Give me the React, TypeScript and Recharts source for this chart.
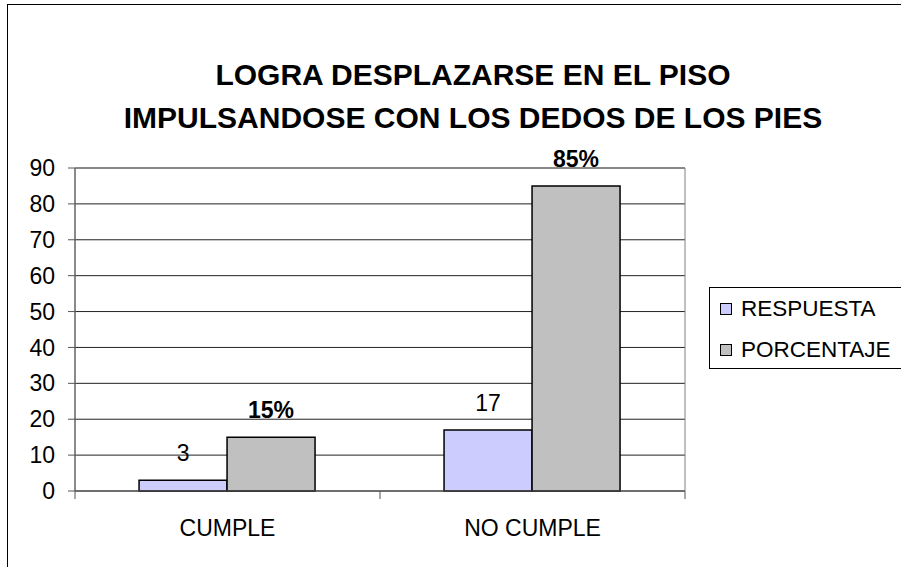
import { BarChart, Bar, XAxis, YAxis, CartesianGrid, LabelList, ReferenceArea } from "recharts";

const categories = ["CUMPLE", "NO CUMPLE"];
const respuesta = [3, 17];
const porcentaje = [15, 85];
const yTicks = [0, 10, 20, 30, 40, 50, 60, 70, 80, 90];

const SERIES = [
  { key: "respuesta", name: "RESPUESTA", color: "#CCCCFF" },
  { key: "porcentaje", name: "PORCENTAJE", color: "#C0C0C0" },
];

const FONT = '"Liberation Sans", Arial, sans-serif';
const TICK_SIZE = 8;
const TICK_MARGIN = 21;

const data = categories.map((name, i) => ({
  name,
  respuesta: respuesta[i],
  porcentaje: porcentaje[i],
}));

function CategoryTick(props: any) {
  const { x, y, payload, index, visibleTicksCount } = props;
  const axisY = y - TICK_SIZE - TICK_MARGIN;
  const half = payload.offset ?? 0;
  const isLast = index === (visibleTicksCount ?? categories.length) - 1;
  return (
    <g>
      <line x1={x - half} x2={x - half} y1={axisY} y2={axisY + TICK_SIZE} stroke="#555" strokeWidth={1} />
      {isLast && <line x1={x + half} x2={x + half} y1={axisY} y2={axisY + TICK_SIZE} stroke="#555" strokeWidth={1} />}
      <text x={x} y={y} dy="0.71em" textAnchor="middle" fontSize={23} fontFamily={FONT} fill="#000">
        {payload.value}
      </text>
    </g>
  );
}

function LegendBox() {
  return (
    <div
      style={{
        position: "absolute",
        left: 709,
        top: 287,
        width: 200,
        height: 80,
        border: "1px solid #000",
        background: "#fff",
        fontFamily: FONT,
        fontSize: 22.5,
        color: "#000",
      }}
    >
      {SERIES.map((s, i) => (
        <div key={s.key} style={{ position: "absolute", left: 0, top: 4 + i * 41, height: 33, display: "flex", alignItems: "center" }}>
          <span
            style={{
              display: "inline-block",
              marginLeft: 10,
              width: 10,
              height: 10,
              background: s.color,
              border: "1px solid #000",
            }}
          />
          <span style={{ marginLeft: 9, lineHeight: "33px" }}>{s.name}</span>
        </div>
      ))}
    </div>
  );
}

export default function App() {
  return (
    <div style={{ position: "absolute", left: 0, top: 0, width: 901, height: 567, overflow: "hidden", background: "#fff" }}>
      <div
        style={{
          position: "absolute",
          left: 7,
          top: 4,
          width: 1200,
          height: 1000,
          borderLeft: "1px solid #000",
          borderTop: "1px solid #000",
        }}
      />
      <div
        style={{
          position: "absolute",
          left: 0,
          width: 946,
          top: 53,
          textAlign: "center",
          fontFamily: FONT,
          fontWeight: 700,
          fontSize: 30,
          lineHeight: "43px",
          color: "#000",
        }}
      >
        LOGRA DESPLAZARSE EN EL PISO
        <br />
        IMPULSANDOSE CON LOS DEDOS DE LOS PIES
      </div>
      <div style={{ position: "absolute", left: 0, top: 0 }}>
        <BarChart
          width={901}
          height={567}
          data={data}
          margin={{ top: 168, right: 216, bottom: 46, left: 15 }}
          barCategoryGap="21%"
          barGap={0}
        >
          <CartesianGrid horizontal vertical={false} stroke="#222" strokeWidth={1} />
          <ReferenceArea y1={0} y2={90} fill="none" stroke="#808080" strokeWidth={1} ifOverflow="visible" />
          <XAxis
            dataKey="name"
            height={30}
            axisLine={{ stroke: "#555" }}
            tickLine={false}
            tickSize={TICK_SIZE}
            tickMargin={TICK_MARGIN}
            tick={<CategoryTick />}
            interval={0}
          />
          <YAxis
            width={60}
            domain={[0, 90]}
            ticks={yTicks}
            interval={0}
            axisLine={{ stroke: "#555" }}
            tickLine={{ stroke: "#555" }}
            tickSize={7}
            tickMargin={13}
            tick={{ fontSize: 23, fontFamily: FONT, fill: "#000" }}
          />
          <Bar dataKey="respuesta" name="RESPUESTA" fill={SERIES[0].color} stroke="#000" strokeWidth={1.5} isAnimationActive={false}>
            <LabelList dataKey="respuesta" position="top" offset={19} fontSize={23} fontFamily={FONT} fill="#000" />
          </Bar>
          <Bar dataKey="porcentaje" name="PORCENTAJE" fill={SERIES[1].color} stroke="#000" strokeWidth={1.5} isAnimationActive={false}>
            <LabelList
              dataKey="porcentaje"
              position="top"
              offset={19}
              fontSize={23}
              fontWeight={700}
              fontFamily={FONT}
              fill="#000"
              formatter={(v: any) => `${v}%`}
            />
          </Bar>
        </BarChart>
      </div>
      <LegendBox />
    </div>
  );
}
